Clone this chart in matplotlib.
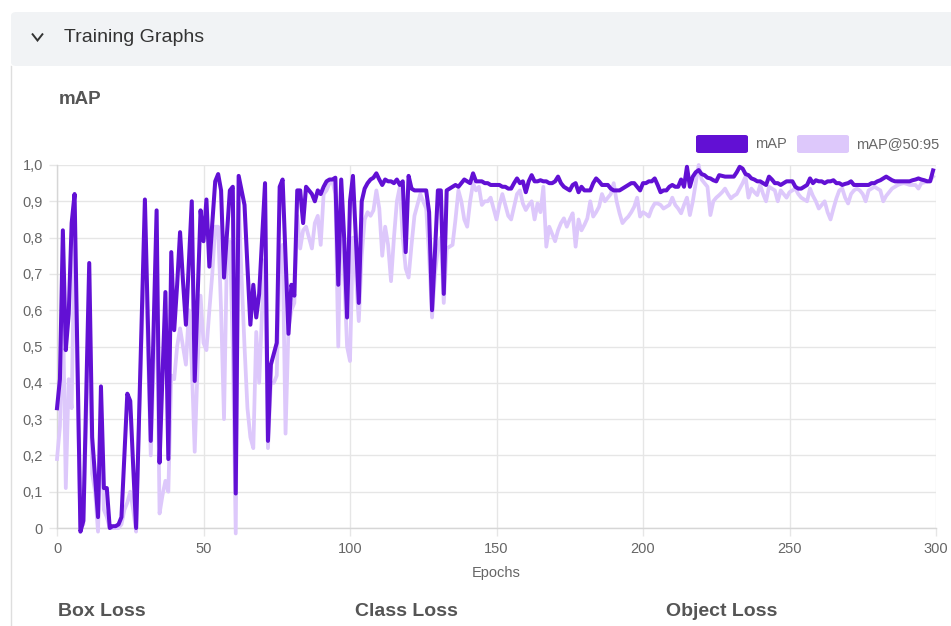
import matplotlib
matplotlib.use("Agg")
import matplotlib.pyplot as plt
from matplotlib.patches import FancyBboxPatch
from matplotlib.lines import Line2D

plt.rcParams['font.family'] = ['Liberation Sans', 'DejaVu Sans']

# ---------------- data ----------------
epochs = list(range(300))

map_vals = [
    0.33, 0.41, 0.82, 0.49, 0.59, 0.84, 0.92, 0.46, -0.01, 0.02,
    0.38, 0.73, 0.25, 0.14, 0.03, 0.39, 0.11, 0.11, 0.0, 0.005,
    0.005, 0.01, 0.03, 0.20, 0.37, 0.35, 0.17, 0.0, 0.30, 0.60,
    0.905, 0.57, 0.24, 0.56, 0.875, 0.18, 0.42, 0.65, 0.19, 0.76,
    0.545, 0.67, 0.815, 0.68, 0.56, 0.73, 0.90, 0.405, 0.64, 0.875,
    0.79, 0.905, 0.72, 0.84, 0.955, 0.975, 0.93, 0.69, 0.81, 0.93,
    0.94, 0.095, 0.97, 0.93, 0.89, 0.72, 0.56, 0.67, 0.58, 0.645,
    0.80, 0.95, 0.24, 0.45, 0.48, 0.51, 0.94, 0.96, 0.75, 0.535,
    0.67, 0.64, 0.93, 0.93, 0.84, 0.94, 0.93, 0.92, 0.90, 0.93,
    0.92, 0.94, 0.955, 0.96, 0.96, 0.965, 0.67, 0.96, 0.80, 0.58,
    0.90, 0.97, 0.80, 0.62, 0.90, 0.935, 0.95, 0.96, 0.965, 0.977,
    0.96, 0.945, 0.96, 0.955, 0.955, 0.95, 0.96, 0.945, 0.955, 0.76,
    0.97, 0.935, 0.93, 0.93, 0.93, 0.93, 0.93, 0.87, 0.60, 0.76,
    0.93, 0.93, 0.645, 0.93, 0.935, 0.94, 0.945, 0.94, 0.95, 0.96,
    0.955, 0.95, 0.977, 0.955, 0.955, 0.955, 0.95, 0.95, 0.945, 0.945,
    0.945, 0.945, 0.94, 0.94, 0.935, 0.935, 0.95, 0.963, 0.95, 0.955,
    0.925, 0.955, 0.972, 0.955, 0.955, 0.958, 0.955, 0.955, 0.95, 0.95,
    0.955, 0.968, 0.95, 0.94, 0.935, 0.93, 0.945, 0.95, 0.925, 0.94,
    0.93, 0.93, 0.93, 0.95, 0.963, 0.955, 0.945, 0.945, 0.945, 0.935,
    0.93, 0.93, 0.93, 0.935, 0.94, 0.945, 0.95, 0.95, 0.94, 0.93,
    0.95, 0.95, 0.955, 0.955, 0.963, 0.945, 0.925, 0.93, 0.93, 0.94,
    0.945, 0.94, 0.94, 0.96, 0.94, 0.995, 0.94, 0.968, 0.98, 0.986,
    0.975, 0.972, 0.965, 0.963, 0.958, 0.955, 0.972, 0.97, 0.968, 0.968,
    0.968, 0.968, 0.98, 0.995, 0.99, 0.975, 0.972, 0.963, 0.96, 0.955,
    0.955, 0.95, 0.945, 0.968, 0.96, 0.95, 0.95, 0.945, 0.95, 0.955,
    0.955, 0.955, 0.94, 0.935, 0.935, 0.94, 0.945, 0.963, 0.95, 0.958,
    0.955, 0.955, 0.95, 0.955, 0.955, 0.958, 0.95, 0.95, 0.945, 0.948,
    0.95, 0.955, 0.945, 0.945, 0.945, 0.945, 0.945, 0.945, 0.95, 0.95,
    0.955, 0.958, 0.963, 0.968, 0.963, 0.958, 0.955, 0.955, 0.955, 0.955,
    0.955, 0.955, 0.958, 0.96, 0.963, 0.96, 0.958, 0.955, 0.955, 0.985,
]

map5095_vals = [
    0.19, 0.28, 0.62, 0.11, 0.41, 0.33, 0.82, 0.40, 0.0, 0.01,
    0.30, 0.60, 0.15, 0.10, -0.01, 0.30, 0.05, 0.03, 0.0, 0.0,
    0.0, 0.0, 0.01, 0.05, 0.07, 0.10, 0.05, -0.01, 0.30, 0.55,
    0.80, 0.50, 0.20, 0.45, 0.70, 0.04, 0.09, 0.13, 0.10, 0.42,
    0.41, 0.50, 0.55, 0.50, 0.45, 0.60, 0.45, 0.21, 0.45, 0.64,
    0.51, 0.49, 0.60, 0.70, 0.83, 0.83, 0.60, 0.30, 0.76, 0.79,
    0.50, -0.015, 0.90, 0.69, 0.50, 0.33, 0.25, 0.22, 0.54, 0.40,
    0.60, 0.74, 0.22, 0.40, 0.40, 0.42, 0.75, 0.78, 0.26, 0.55,
    0.60, 0.62, 0.86, 0.77, 0.82, 0.83, 0.80, 0.77, 0.84, 0.86,
    0.78, 0.92, 0.93, 0.95, 0.955, 0.92, 0.50, 0.92, 0.70, 0.50,
    0.46, 0.80, 0.70, 0.57, 0.75, 0.85, 0.87, 0.86, 0.875, 0.93,
    0.88, 0.75, 0.83, 0.78, 0.68, 0.80, 0.90, 0.94, 0.80, 0.715,
    0.69, 0.78, 0.86, 0.89, 0.92, 0.90, 0.88, 0.75, 0.58, 0.70,
    0.77, 0.80, 0.62, 0.77, 0.775, 0.78, 0.85, 0.93, 0.90, 0.85,
    0.83, 0.90, 0.95, 0.93, 0.94, 0.89, 0.90, 0.90, 0.91, 0.88,
    0.85, 0.89, 0.92, 0.89, 0.86, 0.85, 0.885, 0.92, 0.93, 0.894,
    0.876, 0.89, 0.90, 0.85, 0.894, 0.87, 0.94, 0.775, 0.83, 0.81,
    0.79, 0.82, 0.84, 0.853, 0.83, 0.85, 0.867, 0.775, 0.85, 0.82,
    0.835, 0.853, 0.90, 0.858, 0.87, 0.885, 0.92, 0.90, 0.91, 0.92,
    0.95, 0.90, 0.867, 0.84, 0.85, 0.858, 0.87, 0.885, 0.91, 0.858,
    0.87, 0.865, 0.858, 0.88, 0.894, 0.894, 0.89, 0.88, 0.885, 0.89,
    0.91, 0.89, 0.88, 0.867, 0.89, 0.91, 0.862, 0.90, 0.95, 1.0,
    0.96, 0.95, 0.94, 0.862, 0.90, 0.91, 0.917, 0.925, 0.935, 0.92,
    0.908, 0.915, 0.92, 0.935, 0.95, 0.968, 0.91, 0.935, 0.925, 0.917,
    0.945, 0.92, 0.90, 0.94, 0.935, 0.93, 0.90, 0.93, 0.92, 0.91,
    0.925, 0.93, 0.935, 0.92, 0.91, 0.905, 0.90, 0.935, 0.915, 0.90,
    0.88, 0.89, 0.90, 0.87, 0.85, 0.88, 0.908, 0.93, 0.935, 0.91,
    0.894, 0.92, 0.93, 0.935, 0.93, 0.92, 0.90, 0.93, 0.935, 0.94,
    0.935, 0.93, 0.90, 0.915, 0.925, 0.935, 0.94, 0.945, 0.948, 0.95,
    0.948, 0.945, 0.945, 0.945, 0.935, 0.95, 0.952, 0.955, 0.958, 0.968,
]

series_labels = ["mAP", "mAP@50:95"]
x_ticks = [0, 50, 100, 150, 200, 250, 300]
y_ticks = [0.0, 0.1, 0.2, 0.3, 0.4, 0.5, 0.6, 0.7, 0.8, 0.9, 1.0]
y_tick_labels = ["0", "0,1", "0,2", "0,3", "0,4", "0,5", "0,6", "0,7", "0,8", "0,9", "1,0"]
section_titles = ["Box Loss", "Class Loss", "Object Loss"]

DARK = "#6210d4"
LIGHT = "#ddc8fb"
GRID = "#e6e6e6"
TXT = "#666666"
HEAD = "#555555"

W, H = 951, 626
fig = plt.figure(figsize=(W / 100, H / 100), dpi=100)
fig.patch.set_facecolor("white")


def fx(px):
    return px / W


def fy(py):
    return 1 - py / H


# header band
band = FancyBboxPatch((fx(11), fy(66)), fx(951) - fx(11) + 0.02, fy(12) - fy(66),
                      boxstyle="round,pad=0,rounding_size=0.006",
                      transform=fig.transFigure, facecolor="#f1f3f5",
                      edgecolor="none", zorder=0)
fig.patches.append(band)
# left card border
fig.lines.append(Line2D([fx(10.5), fx(10.5)], [fy(66), fy(626)], transform=fig.transFigure,
                        color="#dedede", lw=1.0))
# chevron
fig.lines.append(Line2D([fx(32), fx(37.5), fx(43)], [fy(33.5), fy(40.5), fy(33.5)],
                        transform=fig.transFigure, color="#333333", lw=1.4,
                        solid_joinstyle="miter", solid_capstyle="butt"))
fig.text(fx(64), fy(37), "Training Graphs", fontsize=14, color="#333333",
         va="center", ha="left")
fig.text(fx(59), fy(100), "mAP", fontsize=13.5, color=HEAD, fontweight="bold",
         va="center", ha="left")

# axes
ax = fig.add_axes([fx(57), fy(528), fx(936) - fx(57), fy(165) - fy(528)])
ax.set_facecolor("white")
ax.plot(epochs, map5095_vals, color=LIGHT, lw=2.7, zorder=3, clip_on=False,
        label=series_labels[1])
ax.plot(epochs, map_vals, color=DARK, lw=2.9, zorder=4, clip_on=False,
        label=series_labels[0])
ax.set_xlim(0, 300)
ax.set_ylim(0, 1.0)
ax.set_xticks(x_ticks)
ax.set_xticklabels([str(t) for t in x_ticks])
ax.set_yticks(y_ticks)
ax.set_yticklabels(y_tick_labels)
ax.grid(True, color=GRID, lw=1.0, zorder=0)
for s in ["top", "right"]:
    ax.spines[s].set_visible(False)
for s in ["left", "bottom"]:
    ax.spines[s].set_color("#d6d6d6")
    ax.spines[s].set_linewidth(1.0)
ax.tick_params(axis="both", length=6, width=1.0, color=GRID, labelcolor=TXT,
               labelsize=10.5, pad=4)
ax.set_xlabel("Epochs", fontsize=10.5, color=TXT, labelpad=7)

# legend (drawn in figure pixels)
for (bx, tx, lab, col) in [(696, 755, series_labels[0], DARK),
                           (797, 856, series_labels[1], LIGHT)]:
    box = FancyBboxPatch((fx(bx), fy(153)), fx(52), fy(0) - fy(18),
                         boxstyle="round,pad=0,rounding_size=0.003",
                         transform=fig.transFigure, facecolor=col,
                         edgecolor="none", zorder=5)
    fig.patches.append(box)
    fig.text(fx(tx), fy(144), lab, fontsize=10.5, color=TXT, va="center", ha="left")

# section titles below
for x0, t in zip([58, 355, 666], section_titles):
    fig.text(fx(x0), fy(612), t, fontsize=14, color=HEAD, fontweight="bold",
             va="center", ha="left")

fig.savefig("out.png", dpi=100, facecolor="white")
